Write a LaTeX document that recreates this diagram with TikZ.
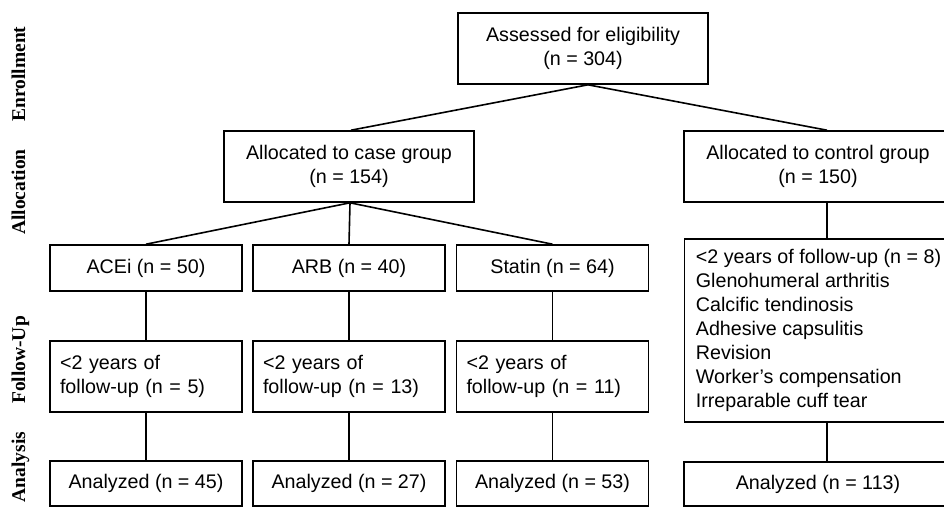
\documentclass[tikz,border=0pt]{standalone}
\usepackage{fontspec}
\setmainfont{Liberation Sans}
\newfontfamily\labelfont{Liberation Serif}
\begin{document}
\begin{tikzpicture}[x=1pt,y=-1pt,
  box/.style={draw, line width=1.6pt, inner sep=0pt, font=\fontsize{19.7}{24}\selectfont, align=center},
  lbox/.style={box, align=left, inner xsep=10pt},
  lbl/.style={font=\labelfont\bfseries\fontsize{19.5}{22}\selectfont, rotate=90, anchor=base, inner sep=0pt},
  conn/.style={line width=1.6pt}]
\clip (0,0) rectangle (944,507);
% stage labels
\node[lbl] (lenr) at (25,74) {Enrollment};
\node[lbl] (lall) at (25,192) {Allocation};
\node[lbl] (lfol) at (25,360) {Follow-Up};
\node[lbl] (lana) at (25,467) {Analysis};
% boxes
\node[box, minimum width=250pt, minimum height=71pt] (top) at (583,48.5) {Assessed for eligibility\\(n = 304)};
\node[box, minimum width=250pt, minimum height=71pt] (case) at (349,166.5) {Allocated to case group\\(n = 154)};
\node[box, minimum width=268pt, minimum height=71pt] (ctrl) at (818,166.5) {Allocated to control group\\(n = 150)};
\node[box, minimum width=192pt, minimum height=46pt] (acei) at (146,268) {ACEi (n = 50)};
\node[box, minimum width=192pt, minimum height=46pt] (arb) at (349,268) {ARB (n = 40)};
\node[box, minimum width=192pt, minimum height=46pt] (stat) at (552.5,268) {Statin (n = 64)};
\node[lbox, text width=172pt, minimum height=71pt] (facei) at (146,376.5) {<2 years of\\follow-up (n = 5)};
\node[lbox, text width=172pt, minimum height=71pt] (farb) at (349,376.5) {<2 years of\\follow-up (n = 13)};
\node[lbox, text width=172pt, minimum height=71pt] (fstat) at (552.5,376.5) {<2 years of\\follow-up (n = 11)};
\node[lbox, minimum width=268pt, minimum height=183pt] (fctrl) at (818.5,330.5) {<2 years of follow-up (n = 8)\\Glenohumeral arthritis\\Calcific tendinosis\\Adhesive capsulitis\\Revision\\Worker’s compensation\\Irreparable cuff tear};
\node[box, minimum width=192pt, minimum height=45pt] (aacei) at (146,483.5) {Analyzed (n = 45)};
\node[box, minimum width=192pt, minimum height=45pt] (aarb) at (349,483.5) {Analyzed (n = 27)};
\node[box, minimum width=192pt, minimum height=45pt] (astat) at (552.5,483.5) {Analyzed (n = 53)};
\node[box, minimum width=268pt, minimum height=44pt] (actrl) at (818,484) {Analyzed (n = 113)};
% connectors
\draw[conn] ([xshift=5pt]top.south) -- ([xshift=2pt]case.north);
\draw[conn] ([xshift=5pt]top.south) -- ([xshift=9pt]ctrl.north);
\draw[conn] ([xshift=1pt]case.south) -- (acei.north);
\draw[conn] ([xshift=1pt]case.south) -- (arb.north);
\draw[conn] ([xshift=1pt]case.south) -- (stat.north);
\draw[conn] (acei.south) -- (facei.north);
\draw[conn] (arb.south) -- (farb.north);
\draw[conn] (stat.south) -- (fstat.north);
\draw[conn] (facei.south) -- (aacei.north);
\draw[conn] (farb.south) -- (aarb.north);
\draw[conn] (fstat.south) -- (astat.north);
\draw[conn] ([xshift=9pt]ctrl.south) -- ([xshift=8.5pt]fctrl.north);
\draw[conn] ([xshift=8.5pt]fctrl.south) -- ([xshift=9pt]actrl.north);
\end{tikzpicture}
\end{document}
